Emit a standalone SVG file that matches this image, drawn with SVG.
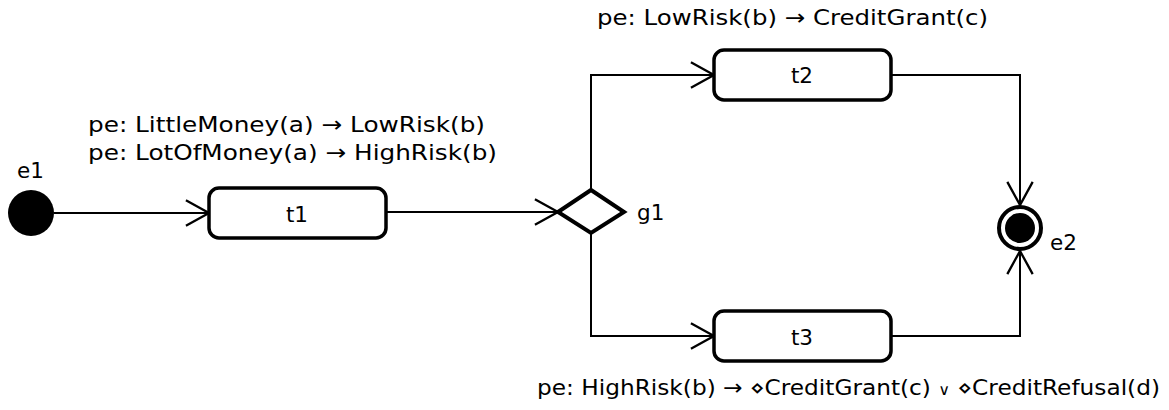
<svg xmlns="http://www.w3.org/2000/svg" width="1169" height="410" viewBox="0 0 1169 410">
<defs>
<style>
.box{fill:#fff;stroke:#000;stroke-width:3.5}
.lbl{font-family:"DejaVu Sans","Liberation Sans",sans-serif;font-size:21.5px;fill:#000}
.mid{text-anchor:middle}
.con{fill:none;stroke:#000;stroke-width:2}
</style>
<marker id="arr" markerUnits="userSpaceOnUse" markerWidth="30" markerHeight="30" viewBox="-22 -13 24 26" refX="0" refY="0" orient="auto">
<path d="M-20,-11 L0,0 L-20,11" fill="none" stroke="#000" stroke-width="2"/>
</marker>
</defs>
<rect width="1169" height="410" fill="#fff"/>
<g id="connectors">
<path class="con" d="M54,213 L209,213" marker-end="url(#arr)"/>
<path class="con" d="M386,212 L558,212" marker-end="url(#arr)"/>
<path class="con" d="M591,190 L591,75 L714,75" marker-end="url(#arr)"/>
<path class="con" d="M591,233 L591,336 L714,336" marker-end="url(#arr)"/>
<path class="con" d="M891,75 L1020,75 L1020,205" marker-end="url(#arr)"/>
<path class="con" d="M891,336 L1020,336 L1020,251" marker-end="url(#arr)"/>
</g>
<g id="e1">
<circle cx="31" cy="213" r="23" fill="#000"/>
<text class="lbl" x="17" y="178">e1</text>
</g>
<g id="t1">
<rect class="box" x="209" y="188" width="177" height="50" rx="10"/>
<text class="lbl mid" x="297" y="222">t1</text>
<text class="lbl" x="88" y="132" textLength="397" lengthAdjust="spacingAndGlyphs">pe: LittleMoney(a) → LowRisk(b)</text>
<text class="lbl" x="88" y="160" textLength="409" lengthAdjust="spacingAndGlyphs">pe: LotOfMoney(a) → HighRisk(b)</text>
</g>
<g id="g1">
<path d="M558,212 L591,190 L624,212 L591,233 Z" fill="#fff" stroke="#000" stroke-width="4" stroke-linejoin="miter"/>
<text class="lbl" x="637" y="220">g1</text>
</g>
<g id="t2">
<rect class="box" x="714" y="50" width="177" height="50" rx="10"/>
<text class="lbl mid" x="802" y="83">t2</text>
<text class="lbl" x="597" y="25" textLength="391" lengthAdjust="spacingAndGlyphs">pe: LowRisk(b) → CreditGrant(c)</text>
</g>
<g id="t3">
<rect class="box" x="714" y="311" width="177" height="50" rx="10"/>
<text class="lbl mid" x="802" y="345">t3</text>
<text class="lbl" x="537" y="395" textLength="623" lengthAdjust="spacingAndGlyphs">pe: HighRisk(b) → ⋄CreditGrant(c)  <tspan font-size="15">∨</tspan> ⋄CreditRefusal(d)</text>
</g>
<g id="e2">
<circle cx="1020" cy="228" r="21" fill="#fff" stroke="#000" stroke-width="4"/>
<circle cx="1020" cy="228" r="15" fill="#000"/>
<text class="lbl" x="1050" y="250">e2</text>
</g>
</svg>
